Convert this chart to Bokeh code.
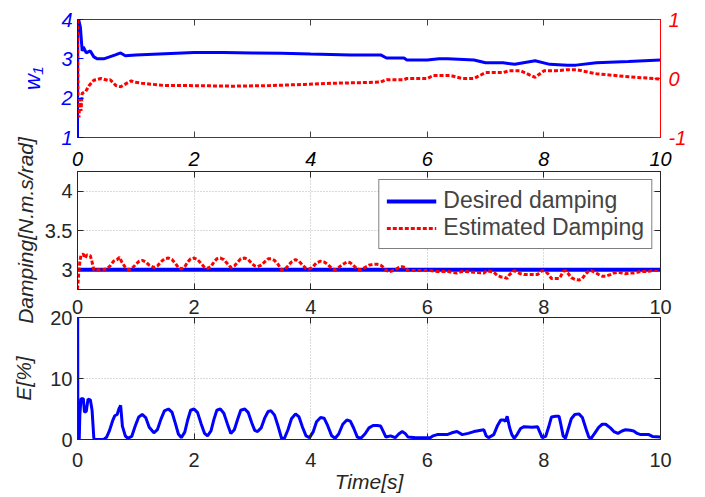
import math
from bokeh.plotting import figure
from bokeh.models import Range1d, LinearAxis, FixedTicker, PrintfTickFormatter, Label
from bokeh.layouts import column
from bokeh.embed import file_html
from bokeh.resources import INLINE

# ---------------- data ----------------
x_ticks = [0, 2, 4, 6, 8, 10]
w1_ticks = [1, 2, 3, 4]
w2_ticks = [-1, 0, 1]
damp_ticks = [3, 3.5, 4]
e_ticks = [0, 10, 20]

t_w1 = [0, 0.005, 0.02, 0.05, 0.08, 0.1, 0.15, 0.22, 0.28, 0.34,
        0.45, 0.55, 0.65, 0.74, 0.82, 1.0, 1.5, 2.0, 2.5, 3.0,
        3.5, 4.0, 4.68, 5.2, 5.3, 5.6, 5.65, 6.0, 6.2, 6.35,
        6.8, 7.0, 7.3, 7.5, 7.85, 8.1, 8.4, 8.55, 8.9, 9.45, 10]
w1 = [1.0, 4.0, 4.0, 3.8, 3.2, 3.3, 3.15, 3.2, 3.05, 3.0,
      3.0, 3.05, 3.1, 3.15, 3.08, 3.1, 3.13, 3.16, 3.16, 3.15,
      3.14, 3.12, 3.1, 3.1, 3.02, 3.02, 2.97, 2.97, 3.0, 3.0,
      2.97, 2.9, 2.9, 2.86, 2.95, 2.86, 2.84, 2.84, 2.9, 2.93, 2.97]

t_w2 = [0, 0.01, 0.025, 0.04, 0.06, 0.08, 0.14, 0.2, 0.28, 0.4,
        0.52, 0.56, 0.66, 0.74, 0.92, 0.97, 1.1, 1.5, 1.9, 2.68,
        3.3, 3.9, 4.4, 4.85, 5.2, 5.3, 5.6, 5.65, 6.0, 6.1,
        6.4, 6.6, 6.8, 7.0, 7.3, 7.4, 7.6, 7.85, 8.0, 8.2,
        8.4, 8.55, 8.9, 9.45, 10]
w2 = [1.0, -0.5, -0.66, -0.35, -0.55, -0.25, -0.22, -0.12, -0.03, 0.0,
      -0.03, -0.02, -0.12, -0.14, -0.04, -0.06, -0.08, -0.12, -0.12, -0.13,
      -0.12, -0.1, -0.08, -0.07, -0.06, -0.02, -0.02, 0.0, 0.0, 0.05,
      0.05, 0.0, 0.0, 0.1, 0.1, 0.13, 0.13, 0.02, 0.13, 0.13,
      0.15, 0.15, 0.08, 0.03, -0.01]

t_des = [0, 10]
damp_des = [3, 3]

# estimated damping, (time, value)
est_points = [
    (0, 2.75), (0.02, 2.95), (0.04, 3.1), (0.06, 3.19), (0.1, 3.2), (0.13, 3.15),
    (0.16, 3.19), (0.22, 3.18), (0.25, 3.1), (0.28, 3.0), (0.4, 3.0), (0.5, 3.01),
    (0.56, 3.05), (0.62, 3.11), (0.68, 3.13), (0.72, 3.16), (0.76, 3.1), (0.82, 3.03),
    (0.88, 3.0), (0.94, 3.02), (1.0, 3.07), (1.06, 3.11), (1.11, 3.12), (1.17, 3.1),
    (1.23, 3.06), (1.31, 3.03), (1.37, 3.05), (1.43, 3.1), (1.49, 3.14), (1.56, 3.15),
    (1.62, 3.13), (1.68, 3.08), (1.73, 3.03), (1.78, 3.01), (1.84, 3.04), (1.89, 3.1),
    (1.94, 3.14), (2.0, 3.15), (2.06, 3.13), (2.12, 3.08), (2.18, 3.03), (2.23, 3.02),
    (2.29, 3.04), (2.34, 3.1), (2.39, 3.14), (2.45, 3.15), (2.51, 3.13), (2.57, 3.08),
    (2.63, 3.03), (2.69, 3.05), (2.75, 3.1), (2.8, 3.14), (2.87, 3.15), (2.93, 3.13),
    (2.99, 3.08), (3.04, 3.05), (3.09, 3.04), (3.15, 3.06), (3.21, 3.1), (3.27, 3.14),
    (3.32, 3.14), (3.38, 3.12), (3.44, 3.07), (3.5, 3.0), (3.55, 3.0), (3.61, 3.05),
    (3.67, 3.1), (3.74, 3.13), (3.8, 3.11), (3.86, 3.06), (3.92, 3.02), (3.98, 3.01),
    (4.04, 3.04), (4.1, 3.09), (4.17, 3.11), (4.23, 3.1), (4.29, 3.07), (4.36, 3.02),
    (4.42, 3.0), (4.48, 3.03), (4.55, 3.07), (4.62, 3.1), (4.68, 3.09), (4.74, 3.05),
    (4.8, 3.01), (4.86, 3.0), (4.93, 3.03), (5.0, 3.06), (5.07, 3.07), (5.14, 3.07),
    (5.2, 3.06), (5.25, 3.03), (5.3, 2.99), (5.37, 2.98), (5.45, 3.0), (5.51, 3.03),
    (5.57, 3.04), (5.62, 3.03), (5.67, 2.99), (5.8, 2.99), (6.05, 2.99), (6.17, 2.98),
    (6.34, 2.98), (6.51, 2.96), (6.6, 2.98), (6.8, 2.97), (6.97, 2.96), (7.02, 2.99),
    (7.14, 2.97), (7.2, 2.93), (7.26, 2.91), (7.31, 2.91), (7.37, 2.89), (7.41, 2.94),
    (7.49, 2.99), (7.54, 2.97), (7.6, 2.95), (7.66, 2.94), (7.8, 2.94), (7.89, 2.94),
    (7.97, 2.99), (8.03, 2.98), (8.08, 2.94), (8.13, 2.89), (8.2, 2.89), (8.26, 2.89),
    (8.29, 2.92), (8.33, 2.98), (8.37, 2.99), (8.42, 2.95), (8.47, 2.9), (8.53, 2.88),
    (8.6, 2.87), (8.66, 2.89), (8.72, 2.95), (8.77, 2.99), (8.81, 2.99), (8.87, 2.97),
    (8.94, 2.94), (9.0, 2.92), (9.06, 2.92), (9.14, 2.94), (9.2, 2.96), (9.27, 2.97),
    (9.34, 2.96), (9.4, 2.95), (9.48, 2.96), (9.54, 2.96), (9.6, 2.97), (9.66, 2.98),
    (9.8, 2.98), (9.86, 2.99), (10, 2.99),
]

# error E[%], (time, value)
e_points = [
    (0, 0), (0.003, 20), (0.006, 0), (0.02, 3), (0.03, 0), (0.04, 4), (0.06, 6.7),
    (0.1, 6.7), (0.12, 4.5), (0.15, 4.6), (0.18, 6.6), (0.22, 6.5), (0.25, 4.8),
    (0.28, 0.2), (0.3, 0), (0.45, 0), (0.5, 0.4), (0.55, 1.5), (0.6, 3.0), (0.64, 3.9),
    (0.68, 4.1), (0.71, 5.0), (0.74, 5.6), (0.77, 2.2), (0.82, 0.6), (0.86, 0.2),
    (0.93, 0.5), (0.99, 2.2), (1.05, 3.7), (1.11, 4.1), (1.17, 3.6), (1.23, 2.0),
    (1.31, 1.1), (1.37, 1.6), (1.43, 3.3), (1.49, 4.7), (1.56, 5.0), (1.62, 4.5),
    (1.68, 2.6), (1.73, 0.9), (1.78, 0.3), (1.84, 1.2), (1.89, 3.2), (1.94, 4.8),
    (2.0, 5.0), (2.06, 4.4), (2.12, 2.6), (2.18, 1.0), (2.23, 0.6), (2.29, 1.4),
    (2.34, 3.3), (2.39, 4.8), (2.45, 5.0), (2.51, 4.3), (2.57, 2.6), (2.63, 1.0),
    (2.69, 1.6), (2.75, 3.4), (2.8, 4.8), (2.87, 5.0), (2.93, 4.4), (2.99, 2.7),
    (3.04, 1.5), (3.09, 1.3), (3.15, 1.9), (3.21, 3.5), (3.27, 4.6), (3.32, 4.7),
    (3.38, 4.0), (3.44, 2.2), (3.5, 0.2), (3.55, 0.2), (3.61, 1.6), (3.67, 3.4),
    (3.74, 4.2), (3.8, 3.7), (3.86, 2.0), (3.92, 0.6), (3.98, 0.3), (4.04, 1.2),
    (4.1, 2.9), (4.17, 3.6), (4.23, 3.5), (4.29, 2.3), (4.36, 0.6), (4.42, 0.2),
    (4.48, 0.9), (4.55, 2.5), (4.62, 3.2), (4.68, 3.0), (4.74, 1.8), (4.8, 0.4),
    (4.86, 0.2), (4.93, 0.9), (5.0, 1.9), (5.07, 2.3), (5.14, 2.3), (5.2, 2.2),
    (5.25, 1.2), (5.29, 0.4), (5.37, 0.6), (5.45, 0.3), (5.51, 0.9), (5.57, 1.3),
    (5.62, 1.0), (5.67, 0.4), (5.8, 0.3), (6.05, 0.3), (6.1, 0.6), (6.17, 0.8),
    (6.34, 0.8), (6.42, 1.1), (6.51, 1.3), (6.6, 0.8), (6.7, 1.0), (6.8, 1.3),
    (6.97, 1.6), (7.01, 0.6), (7.05, 0.3), (7.14, 0.8), (7.2, 2.2), (7.26, 3.2),
    (7.31, 3.2), (7.34, 3.0), (7.37, 3.8), (7.41, 2.0), (7.45, 0.8), (7.49, 0.2),
    (7.54, 0.8), (7.6, 1.8), (7.66, 2.1), (7.8, 2.0), (7.89, 2.1), (7.93, 1.2),
    (7.97, 0.3), (8.03, 0.5), (8.08, 2.0), (8.13, 3.7), (8.2, 3.8), (8.26, 3.8),
    (8.29, 2.5), (8.33, 0.6), (8.37, 0.2), (8.42, 1.8), (8.47, 3.4), (8.53, 4.1),
    (8.6, 4.2), (8.66, 3.6), (8.72, 1.8), (8.77, 0.4), (8.81, 0.2), (8.87, 1.0),
    (8.94, 2.0), (9.0, 2.5), (9.06, 2.5), (9.14, 1.9), (9.2, 1.3), (9.27, 1.0),
    (9.34, 1.4), (9.4, 1.6), (9.48, 1.5), (9.54, 1.4), (9.6, 1.0), (9.66, 0.8),
    (9.8, 0.8), (9.86, 0.5), (10, 0.4),
]

t_est = [p[0] for p in est_points]
damp_est = [p[1] for p in est_points]
t_e = [p[0] for p in e_points]
e_pct = [p[1] for p in e_points]

# ---------------- style ----------------
FONT = "Liberation Sans"
BLUE = "#0000FF"
RED = "#FF0000"
AX = "#262626"
TICK_FS = "20px"
LAB_FS = "21px"
W = 705


def style_axis(ax, ticks, color=AX, italic=False, labels=True, standoff=5):
    ax.ticker = FixedTicker(ticks=ticks)
    ax.formatter = PrintfTickFormatter(format="%g" if labels else "")
    ax.major_tick_in = 6
    ax.major_tick_out = 0
    ax.minor_tick_line_color = None
    ax.axis_line_color = color
    ax.axis_line_width = 1
    ax.major_tick_line_color = color
    ax.major_label_text_color = color
    ax.major_label_text_font = FONT
    ax.major_label_text_font_size = TICK_FS if labels else "0px"
    ax.major_label_text_font_style = "italic" if italic else "normal"
    ax.major_label_standoff = standoff if labels else 0
    ax.axis_label_text_font = FONT
    ax.axis_label_text_font_size = LAB_FS
    ax.axis_label_text_font_style = "italic"
    ax.axis_label_text_color = color


def mirror(p, side, ticks, color=AX):
    ax = LinearAxis()
    style_axis(ax, ticks, color=color, labels=False)
    p.add_layout(ax, side)


def base_fig(height, y_range, top, bottom, margin_top=0):
    p = figure(width=W, height=height, x_range=Range1d(0, 10), y_range=y_range,
               output_backend="svg", toolbar_location=None,
               min_border_left=77, min_border_right=45,
               min_border_top=top, min_border_bottom=bottom)
    p.outline_line_color = AX
    if margin_top:
        p.margin = (margin_top, 0, 0, 0)
        p.border_fill_color = None
        p.background_fill_color = None
    return p


def set_grid(p, yt):
    p.xgrid.ticker = FixedTicker(ticks=x_ticks)
    p.ygrid.ticker = FixedTicker(ticks=yt)
    p.grid.grid_line_color = "#b4b4b4"
    p.grid.grid_line_dash = "1 2"
    p.grid.grid_line_width = 1


# ---------------- top panel ----------------
p1 = base_fig(175, Range1d(1, 4), 19, 38)
p1.extra_y_ranges = {"w2": Range1d(-1, 1)}
p1.grid.visible = False
p1.outline_line_color = "#404040"
style_axis(p1.xaxis[0], x_ticks, color="#404040", italic=True, standoff=14)
p1.xaxis[0].major_label_text_color = "black"
style_axis(p1.yaxis[0], w1_ticks, color=BLUE, italic=True)
p1.yaxis[0].axis_label = "w₁"
p1.yaxis[0].axis_label_text_font_size = "22px"
p1.yaxis[0].axis_label_standoff = 13
raxis = LinearAxis(y_range_name="w2")
style_axis(raxis, w2_ticks, color=RED, italic=True, standoff=8)
p1.add_layout(raxis, "right")
mirror(p1, "above", x_ticks, color="#404040")

p1.line(t_w1, w1, color=BLUE, line_width=3)
p1.line(t_w2, w2, y_range_name="w2", color=RED, line_width=3, line_dash="4 2")
p1.add_layout(Label(x=10, y=0, y_range_name="w2", x_offset=29, text="w₂",
                    angle=math.pi / 2, text_align="center", text_baseline="middle",
                    text_color=RED, text_font=FONT, text_font_style="italic",
                    text_font_size="22px"))

# ---------------- middle panel ----------------
p2 = base_fig(212, Range1d(2.75, 4.25), 53, 41, margin_top=-57)
set_grid(p2, damp_ticks)
style_axis(p2.xaxis[0], x_ticks, standoff=10)
style_axis(p2.yaxis[0], damp_ticks)
p2.yaxis[0].axis_label = "Damping[N.m.s/rad]"
p2.yaxis[0].axis_label_standoff = 5
mirror(p2, "above", x_ticks)
mirror(p2, "right", damp_ticks)

p2.line(t_des, damp_des, color=BLUE, line_width=4, legend_label="Desired damping")
p2.line(t_est, damp_est, color=RED, line_width=3, line_dash="4 2",
        legend_label="Estimated Damping")
lg = p2.legend[0]
lg.location = "top_right"
lg.margin = 8
lg.padding = 7
lg.spacing = 0
lg.glyph_width = 50
lg.glyph_height = 20
lg.label_standoff = 7
lg.label_text_font = FONT
lg.label_text_font_size = "23px"
lg.border_line_color = "black"
lg.border_line_width = 1
lg.background_fill_color = "white"
lg.background_fill_alpha = 1.0

# ---------------- bottom panel ----------------
p3 = base_fig(196, Range1d(0, 20), 17, 57, margin_top=-30)
set_grid(p3, e_ticks)
style_axis(p3.xaxis[0], x_ticks, standoff=13)
p3.xaxis[0].axis_label = "Time[s]"
p3.xaxis[0].axis_label_standoff = 0
style_axis(p3.yaxis[0], e_ticks)
p3.yaxis[0].axis_label = "E[%]"
p3.yaxis[0].axis_label_standoff = 12
mirror(p3, "above", x_ticks)
mirror(p3, "right", e_ticks)

p3.line(t_e, e_pct, color=BLUE, line_width=3)

layout = column(p1, p2, p3)
open("out.html", "w").write(file_html(layout, INLINE))
